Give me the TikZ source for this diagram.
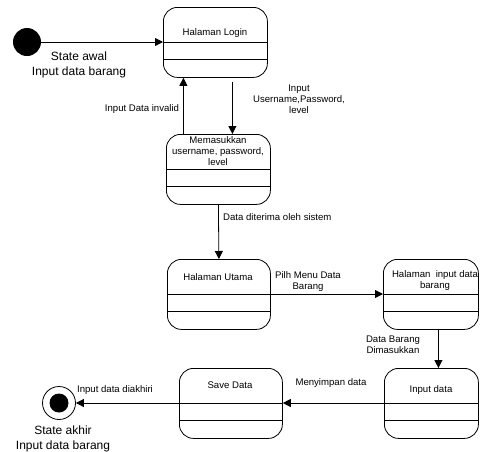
\documentclass[tikz,border=0pt]{standalone}
\usepackage{fontspec}
\setmainfont{Liberation Sans}
\usetikzlibrary{arrows.meta}

\begin{document}
\begin{tikzpicture}[x=1pt,y=-1pt,
	lbl/.style={font=\fontsize{9.6}{11}\selectfont,align=center,inner sep=0pt},
	big/.style={font=\fontsize{12}{15}\selectfont,align=center,inner sep=0pt},
	arr/.style={-{Triangle[length=8pt,width=8pt]},line width=0.8pt}]
	\useasboundingbox (0,0) rectangle (480,451);

	\newcommand\drawState[4]{
		\node[draw,rounded corners=14pt,line width=0.8pt,anchor=north west,minimum width=#3pt,minimum height=70pt,inner sep=0pt] (#4) at (#1,#2) {};
		\coordinate (#4-l) at ([yshift=-35pt]#4.north west);
		\coordinate (#4-r) at ([yshift=-35pt]#4.north east);
		\draw[line width=0.8pt] (#4-l) -- (#4-r);
		\draw[line width=0.8pt] ([yshift=-52pt]#4.north west) -- ([yshift=-52pt]#4.north east);
	}

	\drawState{163}{7}{104}{login}
	\drawState{166}{134}{104}{mem}
	\drawState{167}{259}{103}{utama}
	\drawState{383}{259}{95}{inbar}
	\drawState{384}{368}{94}{indata}
	\drawState{179}{368}{103}{save}

	\node[lbl] (login-t) at (215,33) {Halaman Login};
	\node[lbl] (mem-t) at (218,151) {Memasukkan\\username, password,\\level};
	\node[lbl] (utama-t) at (218,277) {Halaman Utama};
	\node[lbl] (inbar-t) at (435,281) {Halaman\ \ input data\\barang};
	\node[lbl] (indata-t) at (431,390) {Input data};
	\node[lbl] (save-t) at (230,385) {Save Data};

	\node[circle,fill,minimum size=28pt,inner sep=0pt] (start) at (27,42) {};
	\node[circle,draw,line width=0.8pt,minimum size=33pt,inner sep=0pt] (stop) at (59,403) {};
	\node[circle,fill,minimum size=19pt,inner sep=0pt] (stop-in) at (stop) {};

	\draw[arr] (start) -- (login-l);
	\draw[arr] ([xshift=-35pt]mem.north) -- ([xshift=-32pt]login.south);
	\draw[arr] ([xshift=17pt,yshift=-4pt]login.south) -- ([xshift=14pt]mem.north);
	\draw[arr] (mem.south) -- (utama.north);
	\draw[arr] (utama-r) -- (inbar-l);
	\draw[arr] ([xshift=7.5pt]inbar.south) -- ([xshift=7pt]indata.north);
	\draw[arr] (indata-l) -- (save-r);
	\draw[arr] (save-l) -- (stop);

	\node[big] (start-lbl) at (79,64.5) {State awal\\Input data barang};
	\node[lbl] (invalid) at (142,109) {Input Data invalid};
	\node[lbl] (input) at (299,99) {Input\\Username,Password,\\level};
	\node[lbl,anchor=west] (terima) at (223,217) {Data diterima oleh sistem};
	\node[lbl] (pilih) at (308,282) {Pilh Menu Data\\Barang};
	\node[lbl] (masuk) at (393,345) {Data Barang\\Dimasukkan};
	\node[lbl] (simpan) at (331,383) {Menyimpan data};
	\node[lbl] (akhir) at (115,390) {Input data diakhiri};
	\node[big] (stop-lbl) at (63,438.5) {State akhir\\Input data barang};
\end{tikzpicture}
\end{document}
